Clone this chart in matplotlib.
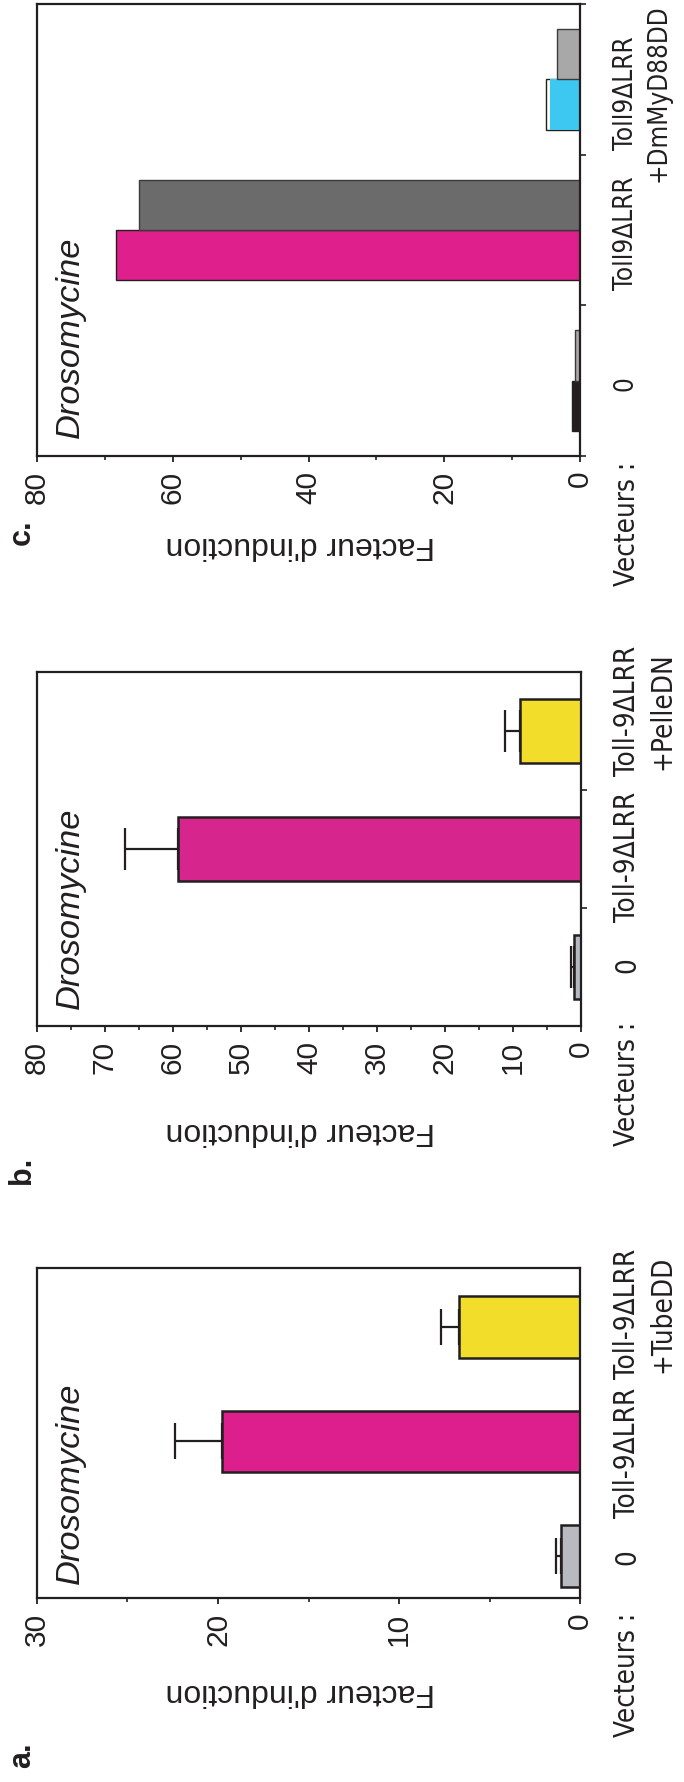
import numpy as np
import matplotlib.pyplot as plt
from matplotlib import font_manager, transforms
from matplotlib.font_manager import FontProperties

W, H = 684, 1783

# a. Toll-9ΔLRR + TubeDD
a_labels = ["0", "Toll-9ΔLRR", "Toll-9ΔLRR\n+TubeDD"]
a_values = [1.03, 19.8, 6.7]
a_err = [0.3, 2.6, 1.0]
a_colors = ["#b8bac0", "#dc1f8c", "#f2de2a"]

# b. Toll-9ΔLRR + PelleDN
b_labels = ["0", "Toll-9ΔLRR", "Toll-9ΔLRR\n+PelleDN"]
b_values = [1.0, 59.2, 9.0]
b_err = [0.5, 7.9, 2.2]
b_colors = ["#b4b9c2", "#d6268e", "#f2de2a"]

# c. Toll9ΔLRR + DmMyD88DD (deux séries)
c_labels = ["0", "Toll9ΔLRR", "Toll9ΔLRR\n+DmMyD88DD"]
c_values_1 = [1.2, 68.4, 4.4]
c_values_2 = [0.8, 64.9, 3.4]
c_colors_1 = ["#231f20", "#de1f8c", "#3cc8f0"]
c_colors_2 = ["#a8a8a8", "#6b6b6b", "#a8a8a8"]
c_outline = 5.0  # contour blanc derrière la barre bleue

DARK = "#231f20"
SANS = ["Liberation Sans", "DejaVu Sans"]

# police étroite pour les étiquettes des vecteurs, si une est installée
condensed = {f.name for f in font_manager.fontManager.ttflist
             if f.stretch in ("condensed", "semi-condensed", "extra-condensed")
             and f.style == "normal"}
narrow_family = "Liberation Sans"
for name in ["Liberation Sans Narrow", "DejaVu Sans", "Noto Sans", "Open Sans", "Roboto"]:
    if name in condensed:
        narrow_family = name
        break
narrow_fp = FontProperties(family=[narrow_family, "DejaVu Sans"], stretch="condensed")

fig = plt.figure(figsize=(W / 100, H / 100), dpi=100)
renderer = fig.canvas.get_renderer()


def fit_size(text, fp, target_px, max_size=22.0):
    # taille de police pour que le texte fasse target_px de long
    t = fig.text(0, 0, text, fontproperties=fp, fontsize=20)
    w = t.get_window_extent(renderer).width
    t.remove()
    return min(max_size, 20 * target_px / w)


NARROW_SIZE = fit_size("Toll-9ΔLRR", narrow_fp, 130)


def px(x, y):
    return x / W, 1 - y / H


def make_axes(top, bottom, left=37, right=580):
    return fig.add_axes([left / W, 1 - bottom / H, (right - left) / W, (bottom - top) / H])


def style_axes(ax, xmax, major, ylim, cat_ticks):
    ax.set_xlim(xmax, 0)
    ax.set_ylim(*ylim)
    ax.set_xticks(np.arange(0, xmax + 1, major))
    ax.set_xticks(np.arange(major / 2, xmax, major), minor=True)
    ax.tick_params(axis="x", which="major", direction="out", length=4, width=1.3,
                   color=DARK, pad=6, labelrotation=90, labelsize=21.5)
    ax.tick_params(axis="x", which="minor", direction="out", length=3, width=1.2, color=DARK)
    for t in ax.get_xticklabels():
        t.set_fontfamily(SANS)
        t.set_color(DARK)

    ax.yaxis.tick_right()
    ax.set_yticks([])
    ax.set_yticks(cat_ticks, minor=True)
    ax.tick_params(axis="y", which="minor", direction="out", length=4, width=1.2,
                   color=DARK, labelright=False)

    for s in ax.spines.values():
        s.set_linewidth(1.6)
        s.set_color(DARK)


def cat_labels(ax, labels, shifts, scale=1.0):
    # étiquettes des vecteurs, à droite de l'axe, décalées de quelques pixels
    base = transforms.blended_transform_factory(fig.transFigure, ax.transData)
    for i, (lab, dy) in enumerate(zip(labels, shifts)):
        tr = transforms.offset_copy(base, fig=fig, y=-dy * 0.72, units="points")
        ax.text(613 / W, i, lab, transform=tr, rotation=90, ha="left", va="center",
                multialignment="center", linespacing=1.35, fontproperties=narrow_fp,
                fontsize=NARROW_SIZE * scale, color=DARK, clip_on=False)


def panel_text(letter, top_y, label_y, dros_y, letter_y):
    fig.text(*px(613, top_y), "Vecteurs :", rotation=90, ha="left", va="top",
             fontproperties=narrow_fp, fontsize=NARROW_SIZE, color=DARK)
    fig.text(*px(300, label_y), "Facteur d'induction", rotation=180, ha="center",
             va="center", fontsize=23, family=SANS, color=DARK)
    fig.text(*px(70, dros_y), "Drosomycine", rotation=90, ha="center", va="bottom",
             fontsize=24.8, family=SANS, style="italic", color=DARK)
    fig.text(*px(22, letter_y), letter, rotation=90, ha="center", va="center",
             fontsize=22, family=SANS, weight="bold", color=DARK)


err_style = dict(ecolor=DARK, elinewidth=1.6, capsize=13, capthick=1.6)
y = np.arange(3)

# --- panneau c ---
ax_c = make_axes(5, 457)
ax_c.barh(2 - 1 / 6, c_outline, 1 / 3, color="white", edgecolor=DARK, linewidth=1.0)
ax_c.barh(y - 1 / 6, c_values_1, 1 / 3, color=c_colors_1,
          edgecolor=[DARK, DARK, "none"], linewidth=1.0)
ax_c.barh(y + 1 / 6, c_values_2, 1 / 3, color=c_colors_2, edgecolor="#3a3a3a", linewidth=1.0)
style_axes(ax_c, 80, 20, (-0.5, 2.5), [-0.5, 0.5, 1.5, 2.5])
cat_labels(ax_c, c_labels, [2, 2, 13], scale=0.94)
panel_text("c.", 462, 545, 438, 532)

# --- panneau b ---
ax_b = make_axes(673, 1027, right=581)
ax_b.barh(y, b_values, 0.55, color=b_colors, edgecolor=DARK, linewidth=1.8,
          xerr=[np.zeros(3), b_err], error_kw=dict(err_style, capsize=15))
style_axes(ax_b, 80, 10, (-0.5, 2.5), [0.5, 1.5])
cat_labels(ax_b, b_labels, [-3, 7, -21])
panel_text("b.", 1022, 1131, 1009, 1170)

# --- panneau a ---
ax_a = make_axes(1269, 1599)
ax_a.barh(y, a_values, 0.54, color=a_colors, edgecolor=DARK, linewidth=1.8,
          xerr=[np.zeros(3), a_err], error_kw=err_style)
style_axes(ax_a, 30, 10, (-0.367, 2.515), [])
cat_labels(ax_a, a_labels, [0, 10, -14])
panel_text("a.", 1613, 1692, 1584, 1755)

fig.savefig("out.png", dpi=100)
